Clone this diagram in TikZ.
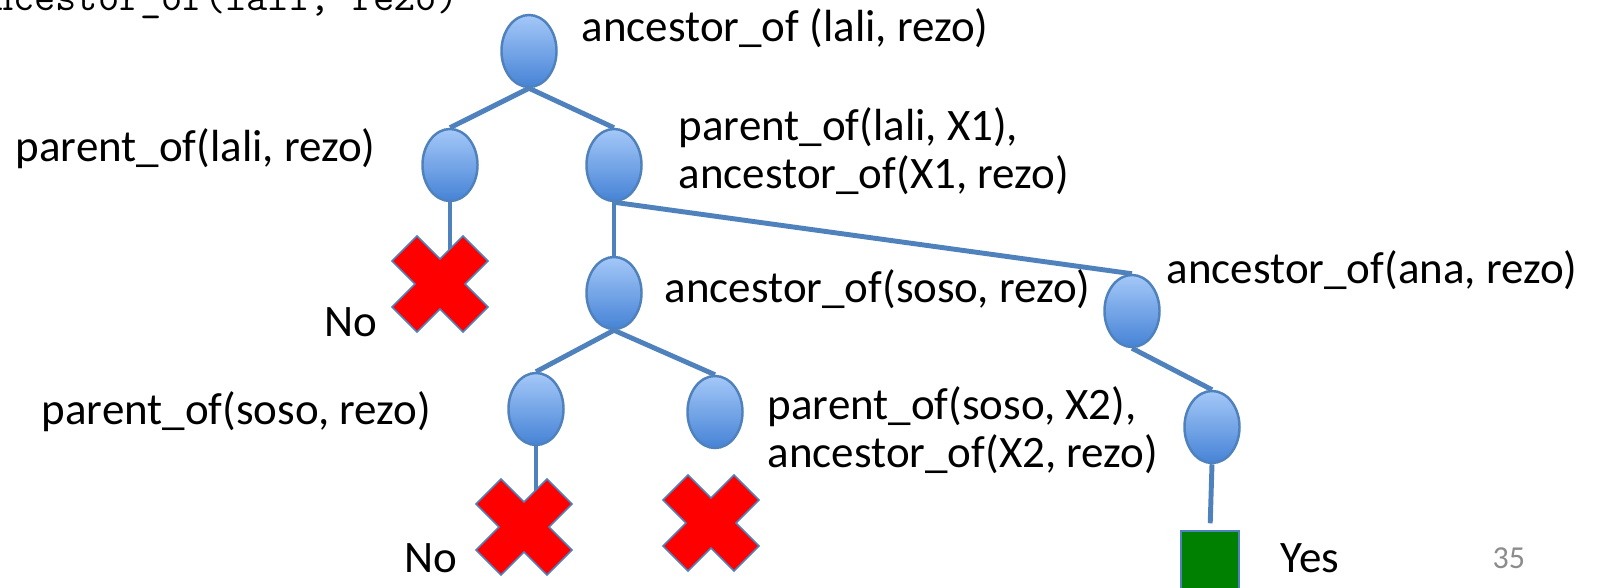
\documentclass[tikz,border=0pt]{standalone}
\usepackage{fontspec}
\setmainfont{Carlito}
\usetikzlibrary{shapes.geometric}

\definecolor{linkblue}{HTML}{4F81BD}
\definecolor{goaltop}{HTML}{A4C8F8}
\definecolor{goalbot}{HTML}{4683D6}
\definecolor{yesgreen}{HTML}{008000}
\definecolor{pagegray}{HTML}{8C8C8C}

% red cross for a failed branch
\tikzset{
  nomark/.pic={
    \filldraw[fill=red, draw=linkblue, line width=0.5pt]
      (0,25) -- (23,48) -- (48,23) -- (25,0) -- (48,-23) -- (23,-48)
      -- (0,-25) -- (-23,-48) -- (-48,-23) -- (-25,0) -- (-48,23)
      -- (-23,48) -- cycle;
  }
}

\begin{document}
\begin{tikzpicture}[
    x=0.01cm, y=-0.01cm,
    goal/.style={ellipse, draw=linkblue, line width=0.7pt,
                 top color=goaltop, bottom color=goalbot,
                 minimum width=0.55cm, minimum height=0.72cm, inner sep=0pt},
    link/.style={draw=linkblue, line width=1.4pt},
    txt/.style={anchor=base west, inner sep=0pt, align=left,
                font=\fontsize{12.8}{13.7}\selectfont}]
  \useasboundingbox (0,0) rectangle (1599,588);
  \clip (0,0) rectangle (1599,588);

  % goals
  \node[goal] (root) at (529,51) {};
  \node[goal] (l1) at (450,165) {};
  \node[goal] (r1) at (614,165) {};
  \node[goal] (m) at (614,293) {};
  \node[goal] (a) at (1132,311) {};
  \node[goal] (mm) at (536,409) {};
  \node[goal] (mr) at (715,412) {};
  \node[goal] (ab) at (1212,427) {};
  \node[draw=linkblue, fill=yesgreen, minimum size=0.58cm, inner sep=0pt]
    (yes) at (1210,560) {};
  \coordinate (x1) at (440,284);
  \coordinate (x2) at (524,527);
  \coordinate (x3) at (711,523);

  % branches
  \draw[link] (root.south) -- (l1.north);
  \draw[link] (root.south) -- (r1.north);
  \draw[link] (l1.south) -- (l1.south |- x1);
  \draw[link] (r1.south) -- (m.north);
  \draw[link] (r1.south) -- (a.north);
  \draw[link] (m.south) -- (mm.north);
  \draw[link] (m.south) -- (mr.north);
  \draw[link] (mm.south) -- (mm.south |- x2);
  \draw[link] (a.south) -- (ab.north);
  \draw[link, shorten >=0.07cm] (ab.south) -- (yes.north);

  \pic at (x1) {nomark};
  \pic at (x2) {nomark};
  \pic at (x3) {nomark};

  % labels
  \node[anchor=base east, inner sep=0pt, font=\ttfamily\fontsize{11.7}{13}\selectfont]
    (query) at (459,11) {ancestor\_of(lali, rezo)};
  \node[txt] (troot) at (581,42) {ancestor\_of (lali, rezo)};
  \node[txt] (tl1) at (15,162) {parent\_of(lali, rezo)};
  \node[txt] (tr1) at (678,189) {parent\_of(lali, X1),\\ancestor\_of(X1, rezo)};
  \node[txt] (tm) at (664,303) {ancestor\_of(soso, rezo)};
  \node[txt] (ta) at (1166,284) {ancestor\_of(ana, rezo)};
  \node[txt] (tmm) at (41,425) {parent\_of(soso, rezo)};
  \node[txt] (tmr) at (767,468) {parent\_of(soso, X2),\\ancestor\_of(X2, rezo)};
  \node[txt] (no1) at (324,337) {No};
  \node[txt, anchor=base east] (no2) at (458,573) {No};
  \node[txt] (tyes) at (1280,573) {Yes};
  \node[anchor=base west, inner sep=0pt, text=pagegray, font=\fontsize{9.1}{11}\selectfont]
    (page) at (1492,568) {35};
\end{tikzpicture}
\end{document}
